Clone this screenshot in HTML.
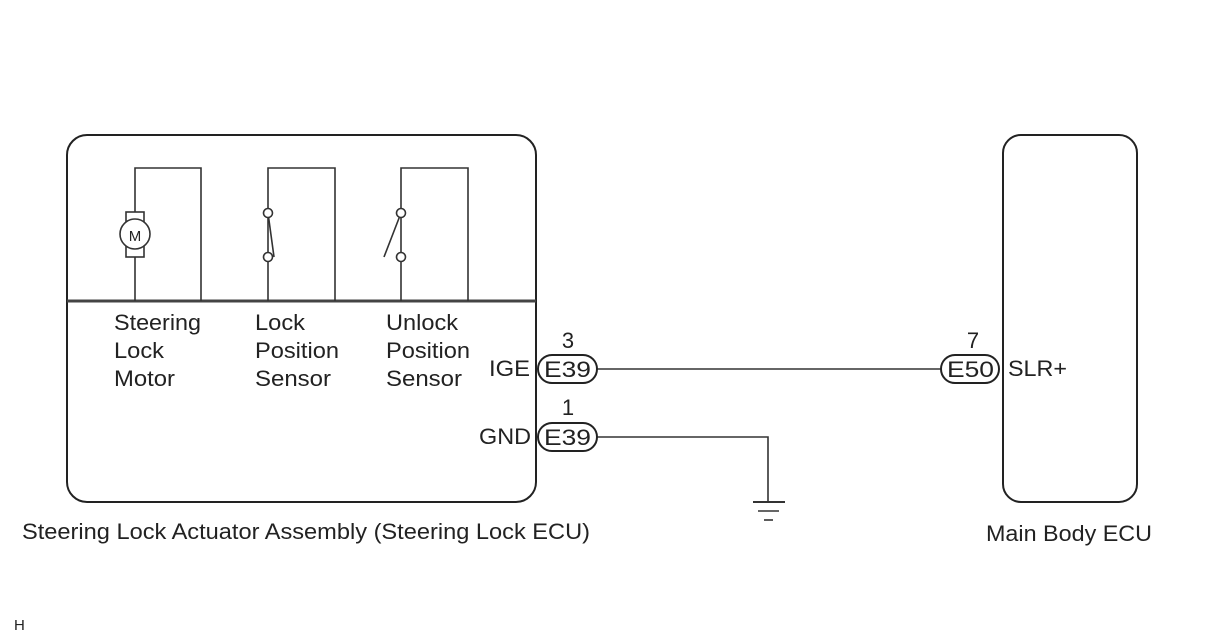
<!DOCTYPE html>
<html><head><style>
html,body{margin:0;padding:0;background:#fff;}
svg{display:block;}
text{font-family:"Liberation Sans",Arial,sans-serif;fill:#222;}
</style></head><body>
<svg width="1208" height="644" viewBox="0 0 1208 644" xmlns="http://www.w3.org/2000/svg">
<g fill="none" stroke="#222" stroke-width="2">
<rect x="67" y="135" width="469" height="367" rx="20"/>
<rect x="1003" y="135" width="134" height="367" rx="18"/>
</g>
<line x1="67" y1="301" x2="536" y2="301" stroke="#444" stroke-width="3"/>
<g fill="none" stroke="#333" stroke-width="1.6">
<polyline points="135,301 135,168 201,168 201,301"/>
<rect x="126" y="212" width="18" height="45" fill="#fff"/>
<circle cx="135" cy="234" r="15" fill="#fff"/>
<polyline points="268,301 268,168 335,168 335,301"/>
<polyline points="401,301 401,168 468,168 468,301"/>
<line x1="268" y1="213" x2="274" y2="257"/>
<line x1="401" y1="213" x2="384" y2="257"/>
<circle cx="268" cy="213" r="4.5" fill="#fff"/>
<circle cx="268" cy="257" r="4.5" fill="#fff"/>
<circle cx="401" cy="213" r="4.5" fill="#fff"/>
<circle cx="401" cy="257" r="4.5" fill="#fff"/>
<line x1="597" y1="369" x2="941" y2="369"/>
<polyline points="597,437 768,437 768,501"/>
<line x1="753" y1="502" x2="785" y2="502" stroke-width="2"/>
<line x1="758" y1="511" x2="779" y2="511"/>
<line x1="764" y1="520" x2="773" y2="520"/>
</g>
<g fill="#fff" stroke="#222" stroke-width="2">
<rect x="538" y="355" width="59" height="28" rx="14"/>
<rect x="538" y="423" width="59" height="28" rx="14"/>
<rect x="941" y="355" width="58" height="28" rx="14"/>
</g>
<text x="135" y="241" font-size="15" text-anchor="middle">M</text>
<g font-size="22">
<text x="114" y="330" textLength="87" lengthAdjust="spacingAndGlyphs">Steering</text>
<text x="114" y="358" textLength="50" lengthAdjust="spacingAndGlyphs">Lock</text>
<text x="114" y="386" textLength="61" lengthAdjust="spacingAndGlyphs">Motor</text>
<text x="255" y="330" textLength="50" lengthAdjust="spacingAndGlyphs">Lock</text>
<text x="255" y="358" textLength="84" lengthAdjust="spacingAndGlyphs">Position</text>
<text x="255" y="386" textLength="76" lengthAdjust="spacingAndGlyphs">Sensor</text>
<text x="386" y="330" textLength="72" lengthAdjust="spacingAndGlyphs">Unlock</text>
<text x="386" y="358" textLength="84" lengthAdjust="spacingAndGlyphs">Position</text>
<text x="386" y="386" textLength="76" lengthAdjust="spacingAndGlyphs">Sensor</text>
<text x="544" y="377" textLength="47" lengthAdjust="spacingAndGlyphs">E39</text>
<text x="544" y="445" textLength="47" lengthAdjust="spacingAndGlyphs">E39</text>
<text x="947" y="377" textLength="47" lengthAdjust="spacingAndGlyphs">E50</text>
<text x="489" y="376" textLength="41" lengthAdjust="spacingAndGlyphs">IGE</text>
<text x="479" y="444" textLength="52" lengthAdjust="spacingAndGlyphs">GND</text>
<text x="568" y="348" text-anchor="middle">3</text>
<text x="568" y="415" text-anchor="middle">1</text>
<text x="973" y="348" text-anchor="middle">7</text>
<text x="1008" y="376" textLength="59" lengthAdjust="spacingAndGlyphs">SLR+</text>
<text x="22" y="539" textLength="568" lengthAdjust="spacingAndGlyphs">Steering Lock Actuator Assembly (Steering Lock ECU)</text>
<text x="986" y="541" textLength="166" lengthAdjust="spacingAndGlyphs">Main Body ECU</text>
</g>
<text x="14" y="630" font-size="15">H</text>
</svg>
</body></html>
